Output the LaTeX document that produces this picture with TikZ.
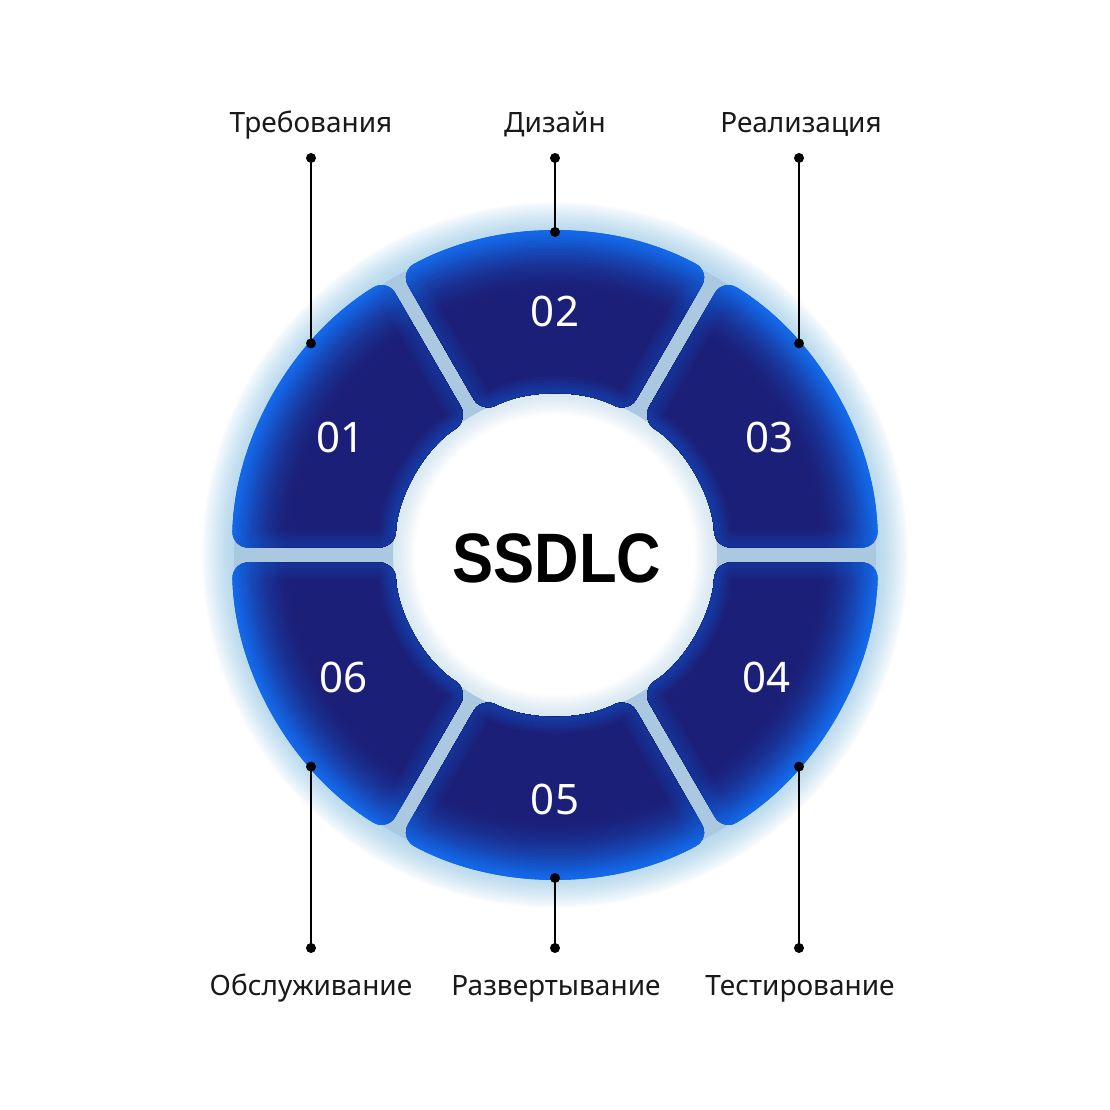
\documentclass[tikz,border=0pt]{standalone}
\usepackage{fontspec}
\usepackage{graphicx}
\setmainfont{Noto Sans}
\newfontfamily\titlefont{Liberation Sans}
\definecolor{navyb}{RGB}{27,31,120}
\definecolor{brightb}{RGB}{20,104,232}
\definecolor{gapc}{RGB}{170,200,224}
\definecolor{glowc}{RGB}{140,198,238}
\definecolor{txt}{RGB}{25,25,25}
\tikzset{
  lbl/.style={font=\fontsize{28}{32}\selectfont, text=txt, anchor=base, inner sep=0pt},
  num/.style={font=\fontsize{42}{46}\selectfont, text=white, inner sep=0pt},
  title/.style={font=\titlefont\bfseries\fontsize{70}{76}\selectfont, text=black, inner sep=0pt},
  conn/.style={line width=2.2pt, black},
  dotn/.style={circle, fill=black, inner sep=0pt, minimum size=10pt},
}
\newcommand\segp[1]{(#1-30+1.78:241.5) -- (#1-30+1.33:323)
      arc[start angle=#1-30+1.33, end angle=#1+30-1.33, radius=323]
      -- (#1+30-2.69:160)
      arc[start angle=#1+30-2.69, end angle=#1-30+2.69, radius=160] -- cycle}
\newcommand\ringseg[1]{%
  \begin{scope}
    \clip[rounded corners=16] \segp{#1};
    \foreach \r in {330,327,...,154} {
      \pgfmathsetmacro\p{min(100,100*(max(\r-266,0.01)/57)^1.6)+max(0,22*(178-\r)/18)}
      \fill[brightb!\p!navyb] (0,0) circle (\r);
    }
    \foreach \w in {34,28,22,16,10} {
      \draw[brightb, opacity=0.06, line width=\w, rounded corners=16] \segp{#1};
    }
  \end{scope}}
\begin{document}
\begin{tikzpicture}[x=1pt,y=1pt]
  \fill[white] (0,0) rectangle (1110,1110);
  \useasboundingbox (0,0) rectangle (1110,1110);
  \begin{scope}[shift={(555,555)}]
    % glow
    \foreach \w in {60,57,...,3} {
      \draw[glowc, opacity=0.04, line width=\w] (0,0) circle (323);
    }
    \foreach \w in {40,37,...,4} {
      \draw[glowc, opacity=0.022, line width=\w] (0,0) circle (160);
    }
    \fill[gapc, even odd rule] (0,0) circle (321) (0,0) circle (162);
    \ringseg{90}
    \ringseg{150}
    \ringseg{30}
    \ringseg{-30}
    \ringseg{-90}
    \ringseg{-150}
    \node[num] (n1) at (151.3:244) {01};
    \node[num] (n2) at (90:244) {02};
    \node[num] (n3) at (28.7:244) {03};
    \node[num] (n4) at (-30:244) {04};
    \node[num] (n5) at (-90:244) {05};
    \node[num] (n6) at (-150:244) {06};
    \node[title] (t) at (2,-3) {\scalebox{0.88}[1]{SSDLC}};
  \end{scope}
  % dots
  \node[dotn] (a1) at (311,952) {};
  \node[dotn] (b1) at (311,766.6) {};
  \node[dotn] (a2) at (555,952) {};
  \node[dotn] (b2) at (555,878) {};
  \node[dotn] (a3) at (799,952) {};
  \node[dotn] (b3) at (799,766.6) {};
  \node[dotn] (a6) at (311,162) {};
  \node[dotn] (b6) at (311,343.4) {};
  \node[dotn] (a5) at (555,162) {};
  \node[dotn] (b5) at (555,232) {};
  \node[dotn] (a4) at (799,162) {};
  \node[dotn] (b4) at (799,343.4) {};
  \draw[conn] (a1.center) -- (b1.center);
  \draw[conn] (a2.center) -- (b2.center);
  \draw[conn] (a3.center) -- (b3.center);
  \draw[conn] (a4.center) -- (b4.center);
  \draw[conn] (a5.center) -- (b5.center);
  \draw[conn] (a6.center) -- (b6.center);
  % labels
  \node[lbl] (l1) at (311,977) {Требования};
  \node[lbl] (l2) at (555,977) {Дизайн};
  \node[lbl] (l3) at (801,977) {Реализация};
  \node[lbl] (l6) at (311,114) {Обслуживание};
  \node[lbl] (l5) at (556,114) {Развертывание};
  \node[lbl] (l4) at (800,114) {Тестирование};
\end{tikzpicture}
\end{document}
